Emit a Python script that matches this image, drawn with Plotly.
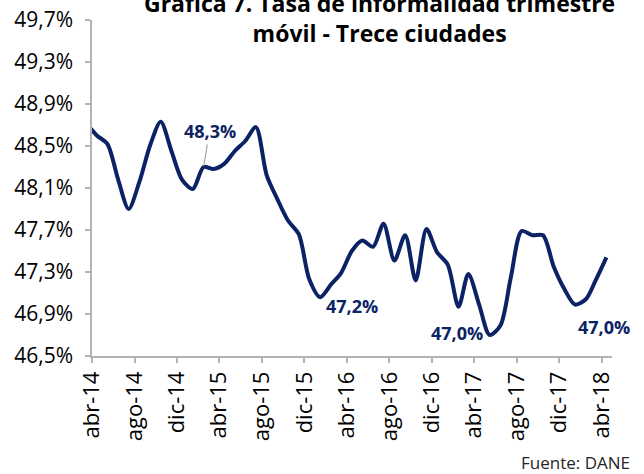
import plotly.graph_objects as go

# Monthly rolling-quarter dates (mid-month), mar-14 .. abr-18
months = ["2014-03-15", "2014-04-15", "2014-05-15", "2014-06-15", "2014-07-15", "2014-08-15",
          "2014-09-15", "2014-10-15", "2014-11-15", "2014-12-15", "2015-01-15", "2015-02-15",
          "2015-03-15", "2015-04-15", "2015-05-15", "2015-06-15", "2015-07-15", "2015-08-15",
          "2015-09-15", "2015-10-15", "2015-11-15", "2015-12-15", "2016-01-15", "2016-02-15",
          "2016-03-15", "2016-04-15", "2016-05-15", "2016-06-15", "2016-07-15", "2016-08-15",
          "2016-09-15", "2016-10-15", "2016-11-15", "2016-12-15", "2017-01-15", "2017-02-15",
          "2017-03-15", "2017-04-15", "2017-05-15", "2017-06-15", "2017-07-15", "2017-08-15",
          "2017-09-15", "2017-10-15", "2017-11-15", "2017-12-15", "2018-01-15", "2018-02-15",
          "2018-03-15", "2018-04-15"]

# Informality rate (%) - thirteen cities
rate = [48.72, 48.60, 48.52, 48.18, 47.90, 48.16, 48.51, 48.73, 48.45, 48.18,
        48.09, 48.30, 48.28, 48.33, 48.45, 48.55, 48.68, 48.22, 47.99, 47.79,
        47.66, 47.23, 47.06, 47.18, 47.29, 47.50, 47.60, 47.54, 47.76, 47.41,
        47.65, 47.22, 47.71, 47.49, 47.37, 46.97, 47.28, 46.99, 46.70, 46.79,
        47.25, 47.69, 47.65, 47.65, 47.35, 47.14, 46.99, 47.04, 47.22, 47.44]

tick_dates = ["2014-04-01", "2014-08-01", "2014-12-01", "2015-04-01", "2015-08-01",
              "2015-12-01", "2016-04-01", "2016-08-01", "2016-12-01", "2017-04-01",
              "2017-08-01", "2017-12-01", "2018-04-01"]
tick_labels = ["abr-14", "ago-14", "dic-14", "abr-15", "ago-15", "dic-15", "abr-16",
               "ago-16", "dic-16", "abr-17", "ago-17", "dic-17", "abr-18"]

y_ticks = [46.5, 46.9, 47.3, 47.7, 48.1, 48.5, 48.9, 49.3, 49.7]
y_labels = ["46,5%", "46,9%", "47,3%", "47,7%", "48,1%", "48,5%", "48,9%", "49,3%", "49,7%"]

label_months = ["2015-02-15", "2016-02-15", "2017-02-15", "2018-02-15"]
label_texts = ["48,3%", "47,2%", "47,0%", "47,0%"]

NAVY = "#0b2364"
AXIS = "#b3b3b3"

fig = go.Figure()
fig.add_trace(go.Scatter(x=months, y=rate, mode="lines",
                         line=dict(color=NAVY, width=4, shape="spline", smoothing=0.8),
                         hoverinfo="skip", showlegend=False))

# label offsets in pixels (text placement only)
offsets = [None, (21, -21), (-2, -26), (18, -28)]
for i, (m, t) in enumerate(zip(label_months, label_texts)):
    yv = rate[months.index(m)]
    if i == 0:
        fig.add_annotation(x=m, y=yv, text="<b>%s</b>" % t, showarrow=True,
                           ax=6, ay=-36, arrowhead=0, arrowwidth=1.2, arrowcolor="#a6a6a6",
                           standoff=1, font=dict(family="Open Sans", size=18, color=NAVY))
    else:
        dx, dy = offsets[i]
        fig.add_annotation(x=m, y=yv, text="<b>%s</b>" % t, showarrow=False,
                           xshift=dx, yshift=dy,
                           font=dict(family="Open Sans", size=18, color=NAVY))

fig.add_annotation(xref="paper", yref="paper", x=0.553, y=1.005, xanchor="center", yanchor="middle",
                   text="<b>Gráfica 7. Tasa de informalidad trimestre<br>móvil - Trece ciudades</b>",
                   showarrow=False, align="center",
                   font=dict(family="Open Sans", size=23, color="#000000"))
fig.add_annotation(xref="paper", yref="paper", x=1.038, y=-0.3155, xanchor="right", yanchor="middle",
                   text="Fuente: DANE", showarrow=False,
                   font=dict(family="Open Sans", size=17, color="#262626"))

fig.update_layout(
    width=644, height=474,
    margin=dict(l=92, r=32, t=20, b=118),
    paper_bgcolor="white", plot_bgcolor="white",
    showlegend=False,
)
fig.update_xaxes(type="date", range=["2014-04-01", "2018-05-01"],
                 tickvals=tick_dates, ticktext=tick_labels, tickangle=-90,
                 showline=True, linecolor=AXIS, linewidth=1.5,
                 ticks="outside", ticklen=5, tickcolor=AXIS, tickwidth=1.5,
                 showgrid=False, zeroline=False, automargin=False,
                 tickfont=dict(family="Open Sans", size=22, color="#000000"))
fig.update_yaxes(range=[46.5, 49.7], tickvals=y_ticks, ticktext=y_labels,
                 showline=True, linecolor=AXIS, linewidth=1.5,
                 ticks="outside", ticklen=5, tickcolor=AXIS, tickwidth=1.5,
                 showgrid=False, zeroline=False, automargin=False, ticklabelstandoff=8,
                 tickfont=dict(family="Open Sans", size=21, color="#000000"))

fig.write_html("out.html", config={"displayModeBar": False},
               post_script="document.body.style.margin='0px';")
